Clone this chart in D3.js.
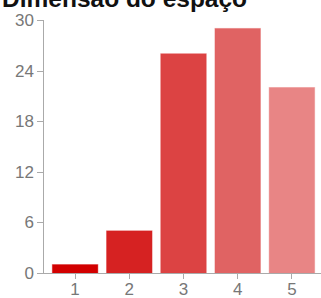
<!DOCTYPE html>
<html>
<head>
<meta charset="utf-8">
<script src="https://cdn.jsdelivr.net/npm/d3@7"></script>
<style>
  body { margin: 0; background: #fff; }
  svg { display: block; }
</style>
</head>
<body>
<div id="chart"></div>
<script>
const title = 'Dimensão do espaço'
const categories = ['1', '2', '3', '4', '5']
const values = [1, 5, 26, 29, 22]
const colors = ['#d20000', '#d62222', '#dc4343', '#e06363', '#e88585']
const yTicks = [0, 6, 12, 18, 24, 30]

const width = 321
const height = 298
const padding = { left: 43, top: 20, right: 2, bottom: 25 }

const svg = d3.select('#chart').append('svg')
    .attr('width', width)
    .attr('height', height)

const xScale = d3.scaleBand()
    .domain(categories)
    .range([48, width - padding.right])
    .paddingInner(0.16)
    .paddingOuter(0.08)

const yScale = d3.scaleLinear()
    .domain([0, 30])
    .range([height - padding.bottom, padding.top])

// title, cut off at the top like the original
svg.append('text')
    .attr('x', 2)
    .attr('y', 7)
    .attr('font-family', 'Liberation Sans, Arial, sans-serif')
    .attr('font-size', 24.5)
    .attr('font-weight', 'bold')
    .attr('fill', '#111')
    .text(title)

svg.selectAll('rect.bar')
    .data(values).enter()
  .append('rect')
    .classed('bar', true)
    .attr('x', (d, i) => xScale(categories[i]))
    .attr('y', d => yScale(d))
    .attr('width', xScale.bandwidth())
    .attr('height', d => yScale(0) - yScale(d))
    .attr('fill', (d, i) => colors[i])
    .attr('stroke', (d, i) => colors[i])
    .attr('stroke-opacity', 0.4)

const yAxis = d3.axisLeft(yScale)
    .tickValues(yTicks)
    .tickSize(6)
    .tickPadding(3)

const xAxis = d3.axisBottom(xScale)
    .tickSize(6)
    .tickPadding(4)

const yAxisElement = svg.append('g')
    .attr('transform', `translate(${padding.left}, 0)`)
    .call(yAxis)

const xAxisElement = svg.append('g')
    .attr('transform', `translate(0, ${yScale(0)})`)
    .call(xAxis)

xAxisElement.select('.domain')
    .attr('d', `M${padding.left},0H${width}`)

yAxisElement.select('.domain')
    .attr('d', `M0,${yScale(30)}V${yScale(0)}`)

svg.selectAll('.domain, .tick line')
    .attr('stroke', '#aaa')
    .attr('shape-rendering', 'crispEdges')

svg.selectAll('.tick text')
    .attr('fill', '#777')
    .attr('font-family', 'Liberation Sans, Arial, sans-serif')
    .attr('font-size', 17)
</script>
</body>
</html>
